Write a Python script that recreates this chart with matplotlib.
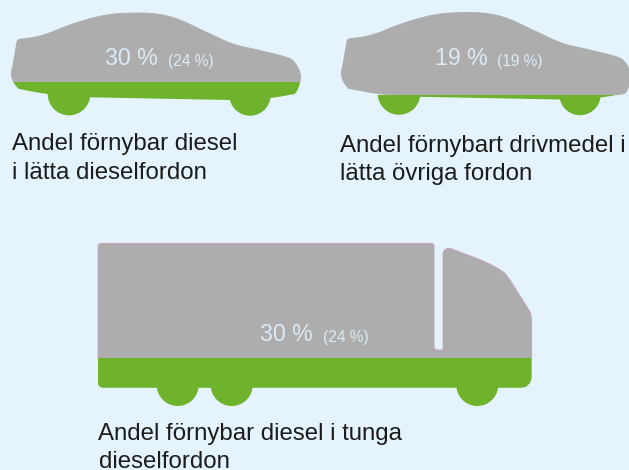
import matplotlib
matplotlib.use("Agg")
import matplotlib.pyplot as plt
from matplotlib.path import Path
from matplotlib.patches import PathPatch, Circle, Rectangle

plt.rcParams['font.family'] = ['Liberation Sans', 'DejaVu Sans']

# Values
shares = [30, 19, 30]
previous = [24, 19, 24]
captions = [["Andel förnybar diesel", "i lätta dieselfordon"],
            ["Andel förnybart drivmedel i", "lätta övriga fordon"],
            ["Andel förnybar diesel i tunga", "dieselfordon"]]

BG, GREY, GREEN = '#E5F3FC', '#ADADAD', '#6FB32D'
TXT, DARK = '#DCEBF5', '#1C1C1C'

# Silhouette outlines, in pixels of the 629x470 canvas
car = [(16.7, 43.5), (18, 40), (20, 39.2), (33, 37.5), (48, 33.5), (67, 26), (87, 19.5),
       (110, 14.5), (137, 13), (160, 14.5), (180, 20), (207, 32.5), (233, 44), (260, 50.5),
       (287, 57.5), (295, 63), (300, 73), (300, 82), (298.3, 88), (295, 93.5), (290, 94.8),
       (270, 98), (240, 99.8), (229, 100), (219, 99.8), (100, 97.5), (90, 97.3), (80, 96.6), (47.7, 94), (22, 89.5),
       (18.3, 88.5), (13.3, 81.7), (11.3, 73), (13, 65)]
car_wheels = [(69, 94, 21.3), (250, 95, 20.7)]

truck = [(98, 247), (98.3, 245), (100, 243.5), (102, 243.3), (432, 243.3), (434, 245),
         (434, 347), (435, 349), (437, 350), (443, 350), (443, 253), (444, 250.5), (447, 248.5),
         (450, 248.3), (476.7, 258.3), (484, 261.3), (491, 264.7), (498, 268.5), (505, 273.3),
         (510, 280), (530, 311.7), (531.7, 318),
         (531.7, 378), (530, 383), (526, 387), (521, 387.8), (102, 387.8), (99.5, 386.5), (98, 384)]
truck_wheels = [(177.7, 385, 21), (231.7, 385, 21), (477.3, 385, 21)]


def closed_path(points, dx=0, dy=0):
    return Path([(x + dx, y + dy) for x, y in points] + [(points[0][0] + dx, points[0][1] + dy)],
                [Path.MOVETO] + [Path.LINETO] * (len(points) - 1) + [Path.CLOSEPOLY])


def rounded(points, steps=8):
    """Closed Catmull-Rom resampling so an outline has no visible facets."""
    out, n = [], len(points)
    for i in range(n):
        p0, p1, p2, p3 = points[i - 1], points[i], points[(i + 1) % n], points[(i + 2) % n]
        for k in range(steps):
            t = k / steps
            out.append(tuple(
                0.5 * (2 * b + (c - a) * t + (2 * a - 5 * b + 4 * c - d) * t ** 2
                       + (3 * b - a - 3 * c + d) * t ** 3)
                for a, b, c, d in zip(p0, p1, p2, p3)))
    return out


fig = plt.figure(figsize=(6.29, 4.70), dpi=100, facecolor=BG)
ax = fig.add_axes([0, 0, 1, 1])
ax.set_xlim(0, 629)
ax.set_ylim(470, 0)
ax.axis('off')


def draw(points, wheels, dx, dy, bottom, scale, share, edge=None):
    level = bottom - share * scale
    path = closed_path(points, dx, dy)
    upper = Rectangle((0, 0), 629, level, transform=ax.transData)
    lower = Rectangle((0, level), 629, 470 - level, transform=ax.transData)
    g = ax.add_patch(PathPatch(path, fc=GREY, ec=edge or GREY, lw=0.6))
    g.set_clip_path(upper)
    for cx, cy, r in wheels:
        c = ax.add_patch(Circle((cx + dx, cy + dy), r, fc=GREEN, ec='none'))
        c.set_clip_path(lower)
    b = ax.add_patch(PathPatch(path, fc=GREEN, ec='none'))
    b.set_clip_path(lower)


smooth_car = rounded(car)
draw(smooth_car, car_wheels, 0, 0, 116, 1.12, shares[0])
draw(smooth_car, car_wheels, 330, -0.5, 116, 1.12, shares[1])
draw(truck, truck_wheels, 0, 0, 406, 1.60, shares[2], edge='#C9A0C0')

big = [(105, 65), (435, 65), (260, 341)]
small = [(168, 66), (497, 66), (323, 342)]
for (x, y), (x2, y2), s, p in zip(big, small, shares, previous):
    ax.text(x, y, f"{s} %", fontsize=16.7, color=TXT, va='baseline', ha='left')
    ax.text(x2, y2, f"({p} %)", fontsize=11.2, color=TXT, va='baseline', ha='left')

cap_pos = [(11.5, 150, 179), (340, 152, 180), (98.5, 440, 468)]
for (x, y1, y2), lines in zip(cap_pos, captions):
    for y, t in zip((y1, y2), lines):
        ax.text(x, y, t, fontsize=17.3, color=DARK, va='baseline', ha='left')

fig.savefig('out.png', dpi=100, facecolor=BG)
